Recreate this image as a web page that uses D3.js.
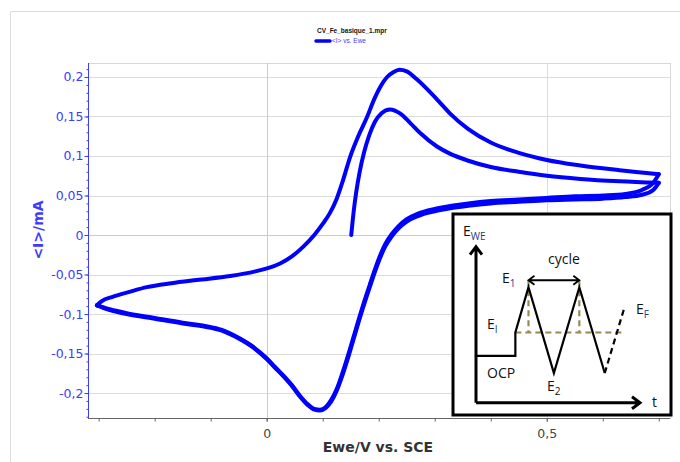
<!DOCTYPE html>
<html><head><meta charset="utf-8">
<script src="https://cdn.jsdelivr.net/npm/d3@7/dist/d3.min.js"></script>
<style>html,body{margin:0;padding:0;background:#fff;}svg{display:block;}</style>
</head><body><div id="chart"></div>
<script>
// ---- data ----
const chartTitle = "CV_Fe_basique_1.mpr";
const legendLabel = "<I> vs. Ewe";
const xTitle = "Ewe/V vs. SCE";
const yTitle = "<I>/mA";
const xMajorTicks = [0, 0.5];
const xTickLabels = ["0", "0,5"];
const yMajorTicks = [-0.2, -0.15, -0.1, -0.05, 0, 0.05, 0.1, 0.15, 0.2];
const yTickLabels = ["-0,2", "-0,15", "-0,1", "-0,05", "0", "0,05", "0,1", "0,15", "0,2"];

// scan branches: Ewe (V) and <I> (mA)
const fwd1E = [0.151, 0.155, 0.160, 0.166, 0.174, 0.183, 0.193, 0.205, 0.220, 0.238, 0.256, 0.274, 0.304, 0.327, 0.36, 0.40, 0.45, 0.50, 0.56, 0.63, 0.70];
const fwd1I = [0.000, 0.028, 0.055, 0.080, 0.105, 0.126, 0.143, 0.154, 0.159, 0.154, 0.142, 0.129, 0.112, 0.103, 0.094, 0.086, 0.080, 0.075, 0.071, 0.068, 0.066];

const rev1E = [0.70, 0.69, 0.67, 0.64, 0.60, 0.55, 0.50, 0.45, 0.40, 0.36, 0.33, 0.30, 0.27, 0.25, 0.235, 0.222, 0.212, 0.203, 0.194, 0.184, 0.172, 0.160, 0.148, 0.136, 0.125, 0.115, 0.105, 0.095, 0.085, 0.073, 0.060, 0.045, 0.030, 0.015, 0.0, -0.025, -0.05, -0.08, -0.11, -0.15, -0.20, -0.25, -0.28, -0.303];
const rev1I = [0.066, 0.057, 0.051, 0.048, 0.046, 0.045, 0.044, 0.042, 0.040, 0.037, 0.034, 0.030, 0.024, 0.017, 0.008, -0.003, -0.014, -0.028, -0.045, -0.066, -0.092, -0.120, -0.149, -0.176, -0.197, -0.211, -0.219, -0.222, -0.221, -0.215, -0.205, -0.191, -0.179, -0.168, -0.157, -0.142, -0.131, -0.121, -0.116, -0.112, -0.106, -0.100, -0.095, -0.089];

const fwd2E = [-0.303, -0.295, -0.274, -0.245, -0.214, -0.17, -0.125, -0.065, -0.02, 0.002, 0.024, 0.045, 0.065, 0.085, 0.100, 0.113, 0.125, 0.137, 0.149, 0.164, 0.179, 0.192, 0.204, 0.215, 0.226, 0.237, 0.250, 0.268, 0.29, 0.31, 0.327, 0.36, 0.40, 0.45, 0.50, 0.56, 0.63, 0.70];
const fwd2I = [-0.089, -0.084, -0.078, -0.072, -0.066, -0.061, -0.057, -0.052, -0.046, -0.042, -0.036, -0.027, -0.015, 0.000, 0.014, 0.028, 0.046, 0.071, 0.099, 0.126, 0.149, 0.172, 0.189, 0.200, 0.206, 0.209, 0.207, 0.197, 0.182, 0.167, 0.154, 0.134, 0.117, 0.104, 0.095, 0.088, 0.082, 0.077];

const rev2E = [0.70, 0.69, 0.67, 0.64, 0.60, 0.55, 0.50, 0.45, 0.40, 0.36, 0.33, 0.30, 0.27, 0.25, 0.235, 0.222, 0.212, 0.203, 0.194, 0.184, 0.172, 0.160, 0.148, 0.136, 0.125, 0.115, 0.105, 0.095, 0.085, 0.073, 0.060, 0.045, 0.030, 0.015, 0.0, -0.025, -0.05, -0.08, -0.11, -0.15, -0.20, -0.25, -0.28, -0.303];
const rev2I = [0.077, 0.066, 0.057, 0.052, 0.050, 0.049, 0.047, 0.045, 0.043, 0.040, 0.037, 0.033, 0.027, 0.020, 0.011, 0.000, -0.011, -0.025, -0.042, -0.063, -0.089, -0.117, -0.146, -0.173, -0.195, -0.209, -0.218, -0.221, -0.220, -0.214, -0.204, -0.190, -0.178, -0.167, -0.156, -0.141, -0.130, -0.120, -0.115, -0.111, -0.105, -0.099, -0.094, -0.089];

// inset schematic (arbitrary units)
const insetWaveT = [0, 2.4, 2.4, 3.2, 4.75, 6.3, 7.85];
const insetWaveE = [3.0, 3.0, 4.5, 7.4, 1.9, 7.4, 1.9];
const insetFinalT = [7.85, 9.05];
const insetFinalE = [1.9, 6.1];
const levelEI = 4.5, levelCycle = 7.85;

// ---- drawing ----
const W = 680, H = 462;
const svg = d3.select("#chart").append("svg").attr("width", W).attr("height", H);
const L = 88, R = 670, T = 63, B = 418;
const x = d3.scaleLinear().domain([-0.319, 0.72]).range([L, R]);
const y = d3.scaleLinear().domain([-0.2316, 0.2177]).range([B, T]);
const blue = "#3c3cff";

// outer frame
svg.append("path").attr("d", `M10.5,${H} V11.5 H${W}`).attr("fill", "none").attr("stroke", "#dcdcdc");

// title + legend
svg.append("text").attr("x", 317).attr("y", 33).attr("font-family", "Liberation Sans, Arial, sans-serif")
  .attr("font-size", 6.5).attr("font-weight", "bold").attr("fill", "#111").text(chartTitle);
svg.append("line").attr("x1", 316).attr("x2", 330).attr("y1", 41).attr("y2", 41)
  .attr("stroke", "#0000ff").attr("stroke-width", 3.5).attr("stroke-linecap", "round");
svg.append("text").attr("x", 332).attr("y", 43.3).attr("font-family", "Liberation Sans, Arial, sans-serif")
  .attr("font-size", 6.5).attr("fill", blue).text(legendLabel);

// plot border
svg.append("rect").attr("x", L + 0.5).attr("y", T + 0.5).attr("width", R - L).attr("height", B - T)
  .attr("fill", "none").attr("stroke", "#d8d8d8");

// grid
svg.append("g").selectAll("line").data(yMajorTicks).join("line")
  .attr("x1", L).attr("x2", R).attr("y1", d => Math.round(y(d)) + 0.5).attr("y2", d => Math.round(y(d)) + 0.5)
  .attr("stroke", d => d === 0 ? "#f7c08e" : "#dcdcdc");
svg.append("g").selectAll("line").data(xMajorTicks).join("line")
  .attr("y1", T).attr("y2", B).attr("x1", d => Math.round(x(d)) + 0.5).attr("x2", d => Math.round(x(d)) + 0.5)
  .attr("stroke", d => d === 0 ? "#f7c08e" : "#dcdcdc");

// y axis
const yMinor = d3.range(-23, 22).map(i => i / 100);
const yAxis = svg.append("g").attr("transform", `translate(${L + 0.5},0)`)
  .call(d3.axisLeft(y).tickValues(yMajorTicks).tickSize(4).tickFormat((d, i) => yTickLabels[i]));
svg.append("g").attr("transform", `translate(${L + 0.5},0)`)
  .call(d3.axisLeft(y).tickValues(yMinor).tickSize(2).tickFormat(""))
  .call(g => g.select(".domain").remove()).selectAll("line").attr("stroke", blue);
yAxis.select(".domain").attr("stroke", blue).attr("d", `M0,${T}V${B}`);
yAxis.selectAll(".tick line").attr("stroke", blue);
yAxis.selectAll(".tick text").attr("fill", blue).attr("font-family", "DejaVu Sans, sans-serif").attr("font-size", 12.5).attr("x", -5);

// x axis
const xMinor = d3.range(-3, 8).map(i => i / 10);
const xAxis = svg.append("g").attr("transform", `translate(0,${B + 0.5})`)
  .call(d3.axisBottom(x).tickValues(xMajorTicks).tickSize(3).tickFormat((d, i) => xTickLabels[i]));
svg.append("g").attr("transform", `translate(0,${B + 0.5})`)
  .call(d3.axisBottom(x).tickValues(xMinor).tickSize(3).tickFormat(""))
  .call(g => g.select(".domain").remove()).selectAll("line").attr("stroke", "#666");
xAxis.select(".domain").attr("stroke", "#666").attr("d", `M${L},0H${R}`);
xAxis.selectAll(".tick line").attr("stroke", "#666");
xAxis.selectAll(".tick text").attr("fill", "#444").attr("font-family", "DejaVu Sans, sans-serif").attr("font-size", 12.5).attr("dy", "1.05em");

// axis titles
svg.append("text").attr("x", 378).attr("y", 452).attr("text-anchor", "middle")
  .attr("font-family", "DejaVu Sans, sans-serif").attr("font-size", 14).attr("font-weight", "bold").attr("fill", "#333").text(xTitle);
svg.append("text").attr("transform", "translate(43,230) rotate(-90)").attr("text-anchor", "middle")
  .attr("font-family", "DejaVu Sans, sans-serif").attr("font-size", 14).attr("font-weight", "bold").attr("fill", blue).text(yTitle);

// curve branches (each monotone in Ewe), drawn in scan order
const branches = [[fwd1E, fwd1I], [rev1E, rev1I], [fwd2E, fwd2I], [rev2E, rev2I]];
const line = d3.line().x(d => x(d[0])).y(d => y(d[1])).curve(d3.curveMonotoneX);
branches.forEach(([es, is]) => {
  const p = es.map((e, i) => [e, is[i]]).sort((a, b) => a[0] - b[0]);
  svg.append("path").datum(p).attr("d", line)
    .attr("fill", "none").attr("stroke", "#0000ff").attr("stroke-width", 4)
    .attr("stroke-linejoin", "round").attr("stroke-linecap", "round");
});

// ---- inset ----
const ix0 = 453, iy0 = 214, ix1 = 671, iy1 = 415;
svg.append("rect").attr("x", ix0).attr("y", iy0).attr("width", ix1 - ix0).attr("height", iy1 - iy0)
  .attr("fill", "#fff").attr("stroke", "#000").attr("stroke-width", 3);
const it = d3.scaleLinear().domain([0, 10]).range([476, 640]);
const iE = d3.scaleLinear().domain([0, 10]).range([402.7, 246.7]);
const olive = "#948a54";
const insetFont = "Open Sans, Liberation Sans, sans-serif";
svg.append("line").attr("x1", it(2.4)).attr("x2", it(9.05)).attr("y1", iE(levelEI)).attr("y2", iE(levelEI))
  .attr("stroke", olive).attr("stroke-width", 2.2).attr("stroke-dasharray", "6,4");
[3.2, 6.3].forEach(t => svg.append("line").attr("x1", it(t)).attr("x2", it(t)).attr("y1", iE(levelCycle)).attr("y2", iE(levelEI))
  .attr("stroke", olive).attr("stroke-width", 2.2).attr("stroke-dasharray", "6,4"));
svg.append("path").attr("d", d3.line().x((d, i) => it(insetWaveT[i])).y((d, i) => iE(insetWaveE[i]))(insetWaveT))
  .attr("fill", "none").attr("stroke", "#000").attr("stroke-width", 2.2).attr("stroke-linejoin", "miter");
svg.append("path").attr("d", d3.line().x((d, i) => it(insetFinalT[i])).y((d, i) => iE(insetFinalE[i]))(insetFinalT))
  .attr("fill", "none").attr("stroke", "#000").attr("stroke-width", 2.2).attr("stroke-dasharray", "6,4");
svg.append("path").attr("d", `M${it(0)},${iE(0)} V${iE(10)} M${it(0) - 6},${iE(10) + 8} L${it(0)},${iE(10)} L${it(0) + 6},${iE(10) + 8}`)
  .attr("fill", "none").attr("stroke", "#000").attr("stroke-width", 3).attr("stroke-linejoin", "miter");
svg.append("path").attr("d", `M${it(0)},${iE(0)} H${it(10)} M${it(10) - 8},${iE(0) - 6} L${it(10)},${iE(0)} L${it(10) - 8},${iE(0) + 6}`)
  .attr("fill", "none").attr("stroke", "#000").attr("stroke-width", 3).attr("stroke-linejoin", "miter");
const cy = iE(levelCycle);
svg.append("path").attr("d", `M${it(3.2)},${cy} H${it(6.3)} M${it(3.2) + 6},${cy - 4.5} L${it(3.2)},${cy} L${it(3.2) + 6},${cy + 4.5} M${it(6.3) - 6},${cy - 4.5} L${it(6.3)},${cy} L${it(6.3) - 6},${cy + 4.5}`)
  .attr("fill", "none").attr("stroke", "#000").attr("stroke-width", 1.8);
function lab(xp, yp, main, sub, subColor) {
  const t = svg.append("text").attr("x", xp).attr("y", yp).attr("font-family", insetFont).attr("font-size", 14).attr("fill", "#111");
  t.append("tspan").text(main);
  if (sub) t.append("tspan").attr("dy", 4).attr("font-size", 10).attr("fill", subColor || "#111").text(sub);
}
lab(463, 236, "E", "WE", "#1f3a8a");
lab(548, 264, "cycle");
lab(502, 283, "E", "1", "#1f3a8a");
lab(487, 329, "E", "I", "#1f3a8a");
lab(636, 314, "E", "F", "#1f3a8a");
lab(487, 378, "OCP");
lab(547, 391, "E", "2", "#111");
lab(652, 407, "t");
</script></body></html>
